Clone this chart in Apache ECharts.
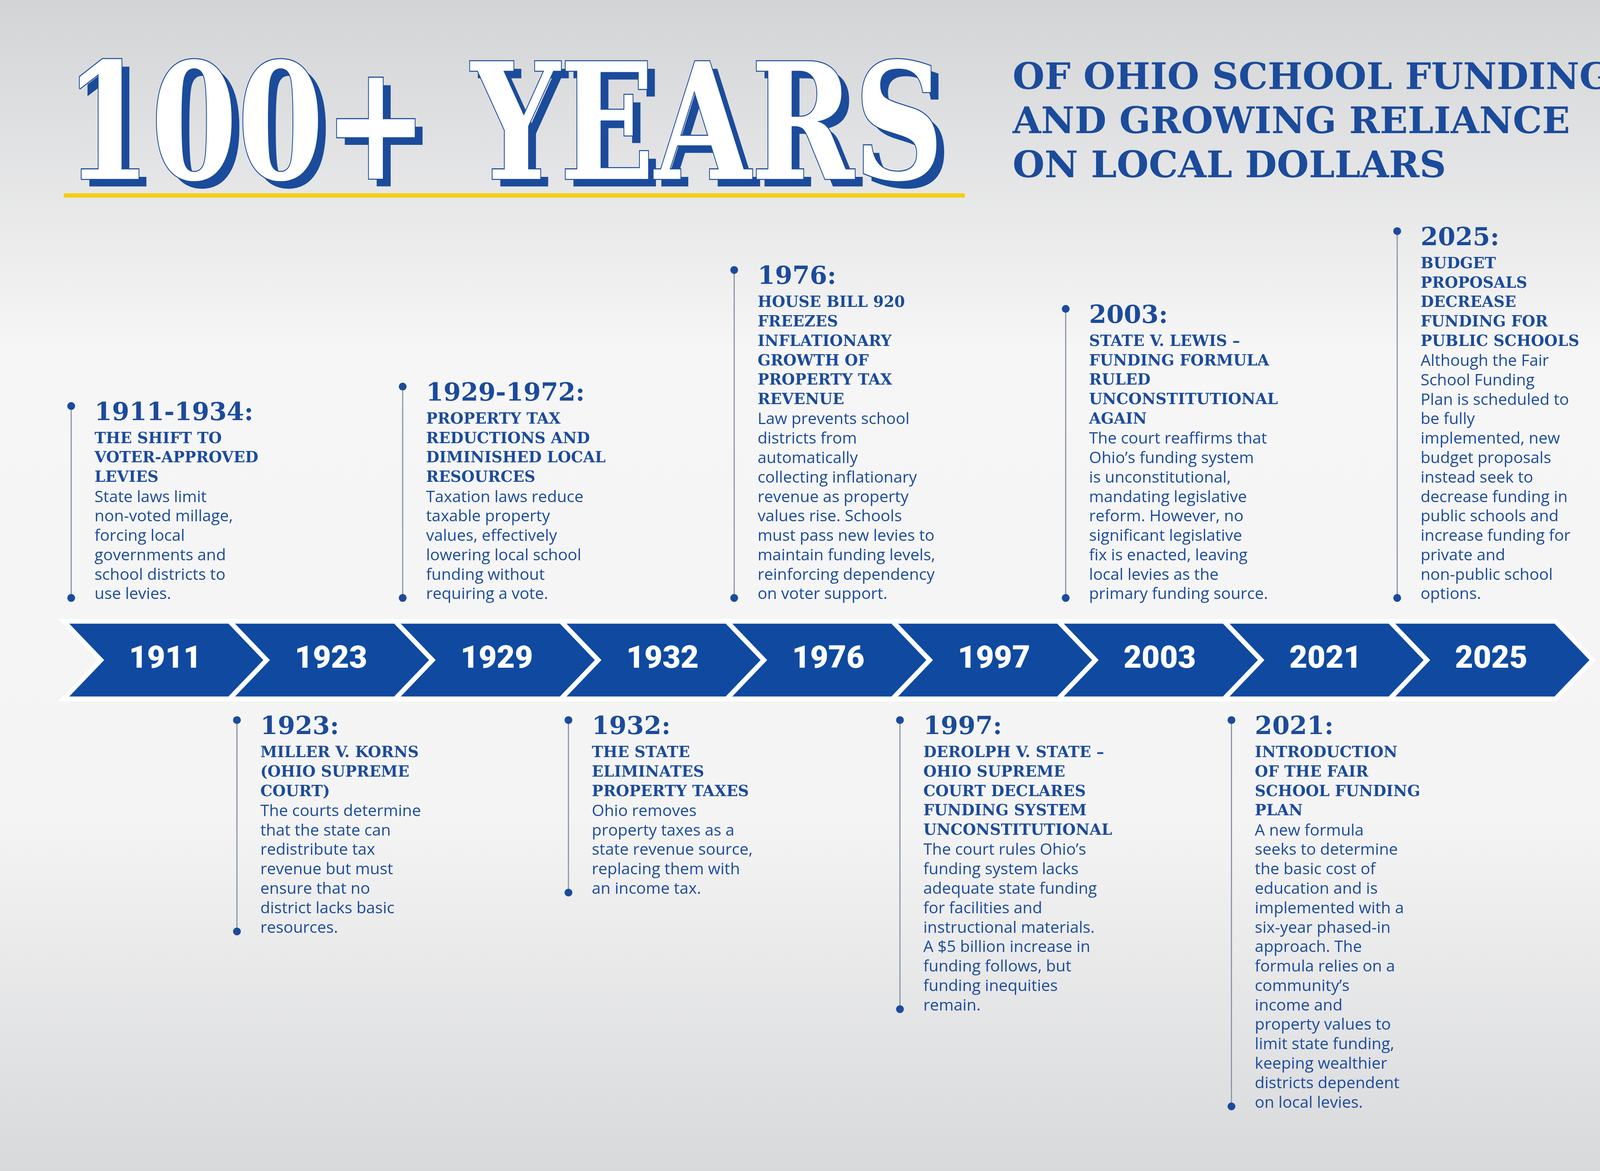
<!DOCTYPE html>
<html>
<head>
<meta charset="utf-8">
<script src="https://cdn.jsdelivr.net/npm/echarts@6/dist/echarts.min.js"></script>
<style>html,body{margin:0;padding:0;}#main{width:4265px;height:2999px;}</style>
</head>
<body>
<div id="main"></div>
<script>
var S = 4265 / 1568;
var BLUE = '#1b4b9b';
var CHEV = '#0f4aa0';

// timeline years on the arrow band
var bandYears = ['1911', '1923', '1929', '1932', '1976', '1997', '2003', '2021', '2025'];

// events (index into bandYears, side of band)
var eventIndex = [0, 1, 2, 3, 4, 5, 6, 7, 8];
var eventSide = ['top', 'bottom', 'top', 'bottom', 'top', 'bottom', 'top', 'bottom', 'top'];
var eventYears = ['1911-1934:', '1923:', '1929-1972:', '1932:', '1976:', '1997:', '2003:', '2021:', '2025:'];
var eventTitles = [
    ['THE SHIFT TO', 'VOTER-APPROVED', 'LEVIES'],
    ['MILLER V. KORNS', '(OHIO SUPREME', 'COURT)'],
    ['PROPERTY TAX', 'REDUCTIONS AND', 'DIMINISHED LOCAL', 'RESOURCES'],
    ['THE STATE', 'ELIMINATES', 'PROPERTY TAXES'],
    ['HOUSE BILL 920', 'FREEZES', 'INFLATIONARY', 'GROWTH OF', 'PROPERTY TAX', 'REVENUE'],
    ['DEROLPH V. STATE \u2013', 'OHIO SUPREME', 'COURT DECLARES', 'FUNDING SYSTEM', 'UNCONSTITUTIONAL'],
    ['STATE V. LEWIS \u2013', 'FUNDING FORMULA', 'RULED', 'UNCONSTITUTIONAL', 'AGAIN'],
    ['INTRODUCTION', 'OF THE FAIR', 'SCHOOL FUNDING', 'PLAN'],
    ['BUDGET', 'PROPOSALS', 'DECREASE', 'FUNDING FOR', 'PUBLIC SCHOOLS']
];
var eventBodies = [
    ['State laws limit', 'non-voted millage,', 'forcing local', 'governments and', 'school districts to', 'use levies.'],
    ['The courts determine', 'that the state can', 'redistribute tax', 'revenue but must', 'ensure that no', 'district lacks basic', 'resources.'],
    ['Taxation laws reduce', 'taxable property', 'values, effectively', 'lowering local school', 'funding without', 'requiring a vote.'],
    ['Ohio removes', 'property taxes as a', 'state revenue source,', 'replacing them with', 'an income tax.'],
    ['Law prevents school', 'districts from', 'automatically', 'collecting inflationary', 'revenue as property', 'values rise. Schools', 'must pass new levies to', 'maintain funding levels,', 'reinforcing dependency', 'on voter support.'],
    ['The court rules Ohio\u2019s', 'funding system lacks', 'adequate state funding', 'for facilities and', 'instructional materials.', 'A $5 billion increase in', 'funding follows, but', 'funding inequities', 'remain.'],
    ['The court reaffirms that', 'Ohio\u2019s funding system', 'is unconstitutional,', 'mandating legislative', 'reform. However, no', 'significant legislative', 'fix is enacted, leaving', 'local levies as the', 'primary funding source.'],
    ['A new formula', 'seeks to determine', 'the basic cost of', 'education and is', 'implemented with a', 'six-year phased-in', 'approach. The', 'formula relies on a', 'community\u2019s', 'income and', 'property values to', 'limit state funding,', 'keeping wealthier', 'districts dependent', 'on local levies.'],
    ['Although the Fair', 'School Funding', 'Plan is scheduled to', 'be fully', 'implemented, new', 'budget proposals', 'instead seek to', 'decrease funding in', 'public schools and', 'increase funding for', 'private and', 'non-public school', 'options.']
];

var titleMain = '100+ YEARS';
var subtitleLines = ['OF OHIO SCHOOL FUNDING', 'AND GROWING RELIANCE', 'ON LOCAL DOLLARS'];

var chart = echarts.init(document.getElementById('main'));

var W = 156 * S;      // chevron body width
var D = 35 * S;       // chevron tip depth
var TOP = 585 * S, BOT = 658 * S;
var LH = 18.3 * S;

function renderChevron(params, api) {
    var c = api.coord([api.value(0), 0])[0];
    var x0 = c - W / 2;
    var mid = (TOP + BOT) / 2;
    return {
        type: 'group',
        children: [{
            type: 'polygon',
            shape: {points: [[x0, TOP], [x0 + W, TOP], [x0 + W + D, mid], [x0 + W, BOT], [x0, BOT], [x0 + D, mid]]},
            style: {fill: CHEV, stroke: '#ffffff', lineWidth: 12, lineJoin: 'miter'}
        }, {
            type: 'text',
            x: x0 + W / 2 + D / 2, y: mid,
            style: {text: bandYears[api.value(0)], fill: '#fff', font: '900 80px Roboto', align: 'center', verticalAlign: 'middle'}
        }]
    };
}

function renderEvent(params, api) {
    var k = params.dataIndex;
    var c = api.coord([api.value(0), 0])[0];
    var lx = c - W / 2 + 7 * S;
    var n = eventTitles[k].length + eventBodies[k].length;
    var h = 30 * S + LH * n;
    var dotTop, dotBot;
    if (eventSide[k] === 'top') {
        dotBot = 563 * S;
        dotTop = dotBot - h + 14 * S;
    } else {
        dotTop = 678 * S;
        dotBot = dotTop + h - 14 * S;
    }
    var txt = ['{y|' + eventYears[k] + '}'];
    eventTitles[k].forEach(function (t) { txt.push('{h|' + t + '}'); });
    eventBodies[k].forEach(function (t) { txt.push('{b|' + t + '}'); });
    return {
        type: 'group',
        children: [{
            type: 'line',
            shape: {x1: lx, y1: dotTop, x2: lx, y2: dotBot},
            style: {stroke: '#8c96a8', lineWidth: 3}
        }, {
            type: 'circle', shape: {cx: lx, cy: dotTop, r: 10}, style: {fill: BLUE}
        }, {
            type: 'circle', shape: {cx: lx, cy: dotBot, r: 10}, style: {fill: BLUE}
        }, {
            type: 'text',
            x: lx + 22 * S, y: dotTop - 8 * S,
            style: {
                text: txt.join('\n'),
                verticalAlign: 'top',
                rich: {
                    y: {font: 'bold 64px "DejaVu Serif"', fill: BLUE, lineHeight: 30 * S},
                    h: {font: 'bold 39px "DejaVu Serif"', fill: BLUE, lineHeight: LH},
                    b: {font: '41px "Open Sans"', fill: BLUE, lineHeight: LH}
                }
            }
        }]
    };
}

var graphics = [
    {type: 'text', left: 60 * S + 22, top: 52 * S + 22, scaleY: 1.3,
     style: {text: titleMain, font: 'bold 318px "DejaVu Serif"', fill: BLUE}},
    {type: 'text', left: 60 * S, top: 52 * S, scaleY: 1.3,
     style: {text: titleMain, font: 'bold 318px "DejaVu Serif"', fill: '#ffffff', stroke: BLUE, lineWidth: 4}},
    {type: 'rect', shape: {x: 60 * S, y: 182 * S, width: 848 * S, height: 4 * S}, style: {fill: '#f5cd0f'}}
];
subtitleLines.forEach(function (t, i) {
    graphics.push({type: 'text', x: 953 * S, y: (75 + 41.5 * i) * S,
        style: {text: t, font: 'bold 94px "DejaVu Serif"', fill: BLUE, verticalAlign: 'middle'}});
});

var option = {
    backgroundColor: {
        type: 'linear', x: 0, y: 0, x2: 0, y2: 1,
        colorStops: [
            {offset: 0, color: '#d3d4d6'}, {offset: 0.3, color: '#f6f6f6'},
            {offset: 0.7, color: '#f4f4f4'}, {offset: 1, color: '#d8d9db'}
        ]
    },
    animation: false,
    graphic: graphics,
    grid: {left: 60 * S, width: 9 * W, top: 0, bottom: 0},
    xAxis: {type: 'category', data: bandYears, show: false},
    yAxis: {type: 'value', min: 0, max: 1, show: false},
    series: [
        {type: 'custom', renderItem: renderChevron, data: bandYears.map(function (y, i) { return [i, 0]; })},
        {type: 'custom', renderItem: renderEvent, data: eventIndex.map(function (i) { return [i, 0]; })}
    ]
};
chart.setOption(option);
</script>
</body>
</html>
